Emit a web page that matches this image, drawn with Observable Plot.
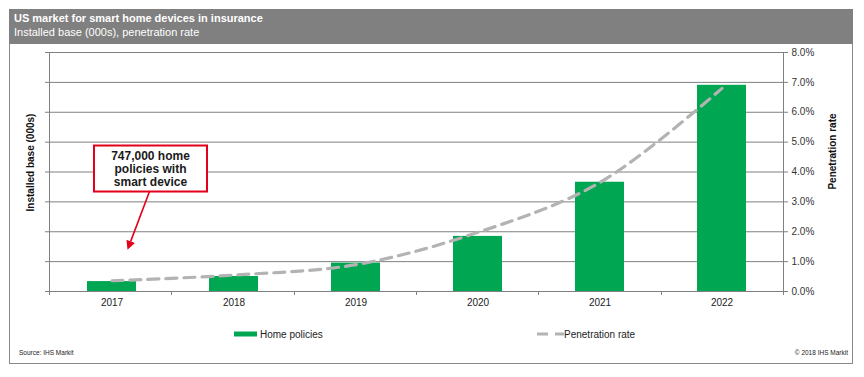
<!DOCTYPE html>
<html>
<head>
<meta charset="utf-8">
<script src="https://cdn.jsdelivr.net/npm/d3@7"></script>
<script src="https://cdn.jsdelivr.net/npm/@observablehq/plot@0.6"></script>
<style>
  html, body { margin: 0; padding: 0; background: #fff; }
  body { width: 864px; height: 377px; overflow: hidden; font-family: "Liberation Sans", Arial, sans-serif; }
  #wrap { position: relative; width: 864px; height: 377px; }
  #frame { position: absolute; left: 9px; top: 9px; width: 842px; height: 353px; border: 1px solid #8a8a8a; }
  #header { position: absolute; left: 9px; top: 9px; width: 844px; height: 35px; background: #808080; color: #fff; }
  #title { position: absolute; left: 5px; top: 3px; font-size: 11px; font-weight: bold; }
  #subtitle { position: absolute; left: 5px; top: 17px; font-size: 11px; }
  #chart { position: absolute; left: 0; top: 44px; }
  .leg { position: absolute; top: 327px; font-size: 10px; color: #222; display: flex; align-items: center; }
  .foot { position: absolute; top: 349px; font-size: 6.5px; color: #222; }
</style>
</head>
<body>
<div id="wrap">
  <div id="frame"></div>
  <div id="header">
    <div id="title">US market for smart home devices in insurance</div>
    <div id="subtitle">Installed base (000s), penetration rate</div>
  </div>
  <div id="chart"></div>
  <div class="leg" style="left:234px;">
    <svg width="24" height="14"><rect x="0" y="4.5" width="23" height="5" fill="#00a651"></rect></svg>
    <span style="margin-left:2px;">Home policies</span>
  </div>
  <div class="leg" style="left:537px;">
    <svg width="27" height="14"><line x1="0" y1="7" x2="27" y2="7" stroke="#b3b3b3" stroke-width="3" stroke-dasharray="11,7"></line></svg>
    <span>Penetration rate</span>
  </div>
  <div class="foot" style="left:19px;">Source: IHS Markit</div>
  <div class="foot" style="right:16px;">© 2018 IHS Markit</div>
</div>
<script>
// ---- data ----
const years = ["2017", "2018", "2019", "2020", "2021", "2022"];
const homePolicies = [747, 1130, 2140, 4150, 8230, 15530];   // installed base (000s)
const penetrationRate = [0.0036, 0.0055, 0.009, 0.0198, 0.0365, 0.068];
const rateTicks = [0, 0.01, 0.02, 0.03, 0.04, 0.05, 0.06, 0.07, 0.08];
const baseMax = 18000;   // left (unlabelled) axis maximum, aligned with 8.0%
const leftTitle = "Installed base (000s)";
const rightTitle = "Penetration rate";
const noteYear = "2017";
const noteLines = ["747,000 home", "policies with", "smart device"];

const rows = years.map((y, i) => ({year: y, base: homePolicies[i], rate: penetrationRate[i]}));
const toRate = v => v / baseMax * rateTicks[rateTicks.length - 1];

const W = 864, H = 270, ML = 49, MR = 81, MT = 8, MB = 23;
const GRID = "#808080";

function frameLines(index, scales, values, dims) {
  const g = d3.create("svg:g").attr("stroke", GRID).attr("fill", "none");
  const l = dims.marginLeft, r = dims.width - dims.marginRight;
  const t = dims.marginTop, b = dims.height - dims.marginBottom;
  g.append("line").attr("x1", l + 0.5).attr("x2", l + 0.5).attr("y1", t).attr("y2", b);
  g.append("line").attr("x1", r + 0.5).attr("x2", r + 0.5).attr("y1", t).attr("y2", b);
  const n = years.length;
  for (let i = 0; i <= n; i++) {
    const xx = Math.round(l + (r - l) * i / n) + 0.5;
    g.append("line").attr("x1", xx).attr("x2", xx).attr("y1", b).attr("y2", b + 4);
  }
  return g.node();
}

function axisTitles(index, scales, values, dims) {
  const g = d3.create("svg:g").attr("font-weight", "bold").attr("font-size", 10)
    .attr("fill", "#111").attr("text-anchor", "middle");
  const l = dims.marginLeft, r = dims.width - dims.marginRight;
  const mid = (dims.marginTop + dims.height - dims.marginBottom) / 2;
  g.append("text").attr("transform", `translate(${l - 19},${mid - 9}) rotate(-90)`)
    .attr("dy", "0.35em").text(leftTitle);
  g.append("text").attr("transform", `translate(${r + 49},${mid - 20}) rotate(-90)`)
    .attr("dy", "0.35em").text(rightTitle);
  return g.node();
}

function annotation(index, scales) {
  const x = scales.x, y = scales.y;
  const bw = typeof x.bandwidth === "function" ? x.bandwidth() : (x.bandwidth || 0);
  const cx = x(noteYear) + bw / 2;
  const red = "#e3001b";
  const g = d3.create("svg:g");
  const bx = cx + 39, by = y(0.041);
  const w = 113, h = 46;
  const x1 = cx + 38, y1 = by + h / 2, x2 = cx + 16, y2 = y(0.0138);
  const ang = Math.atan2(y2 - y1, x2 - x1);
  const hl = 9, hw = 4.5;
  const bxp = x2 - hl * Math.cos(ang), byp = y2 - hl * Math.sin(ang);
  g.append("line").attr("x1", x1).attr("y1", y1).attr("x2", bxp).attr("y2", byp)
    .attr("stroke", red).attr("stroke-width", 1.6);
  g.append("path").attr("fill", red).attr("d",
    `M${x2},${y2}L${bxp - hw * Math.sin(ang)},${byp + hw * Math.cos(ang)}L${bxp + hw * Math.sin(ang)},${byp - hw * Math.cos(ang)}Z`);
  g.append("rect").attr("x", bx - w / 2).attr("y", by - h / 2).attr("width", w).attr("height", h)
    .attr("fill", "#fff").attr("stroke", red).attr("stroke-width", 2);
  const tx = g.append("text").attr("text-anchor", "middle").attr("font-weight", "bold")
    .attr("font-size", 12).attr("fill", "#1a1a1a");
  noteLines.forEach((s, i) => {
    tx.append("tspan").attr("x", bx).attr("y", by - 13 + i * 13.3).attr("dy", "0.35em").text(s);
  });
  return g.node();
}

const chart = Plot.plot({
  width: W, height: H,
  marginLeft: ML, marginRight: MR, marginTop: MT, marginBottom: MB,
  style: {fontFamily: "Liberation Sans, Arial, sans-serif", fontSize: "10px", color: "#333", background: "transparent"},
  x: {domain: years, paddingInner: 0.6, paddingOuter: 0.3, label: null},
  y: {domain: [0, 0.08], label: null},
  marks: [
    Plot.gridY(rateTicks, {stroke: GRID, strokeOpacity: 1}),
    Plot.axisY({anchor: "left", ticks: rateTicks, tickFormat: () => "", tickSize: 4, stroke: GRID, label: null}),
    Plot.axisY({anchor: "right", ticks: rateTicks, tickFormat: d => (d * 100).toFixed(1) + "%", tickSize: 4, tickPadding: 4, stroke: GRID, fill: "#333", label: null}),
    Plot.axisX({tickSize: 0, tickPadding: 7, fill: "#222", label: null}),
    Plot.barY(rows, {x: "year", y: d => toRate(d.base), fill: "#00a651"}),
    Plot.line(rows, {x: "year", y: "rate", stroke: "#b3b3b3", strokeWidth: 3.2, strokeDasharray: "11,7", curve: "catmull-rom"}),
    frameLines,
    axisTitles,
    annotation
  ]
});
document.getElementById("chart").appendChild(chart);
</script>
</body>
</html>
